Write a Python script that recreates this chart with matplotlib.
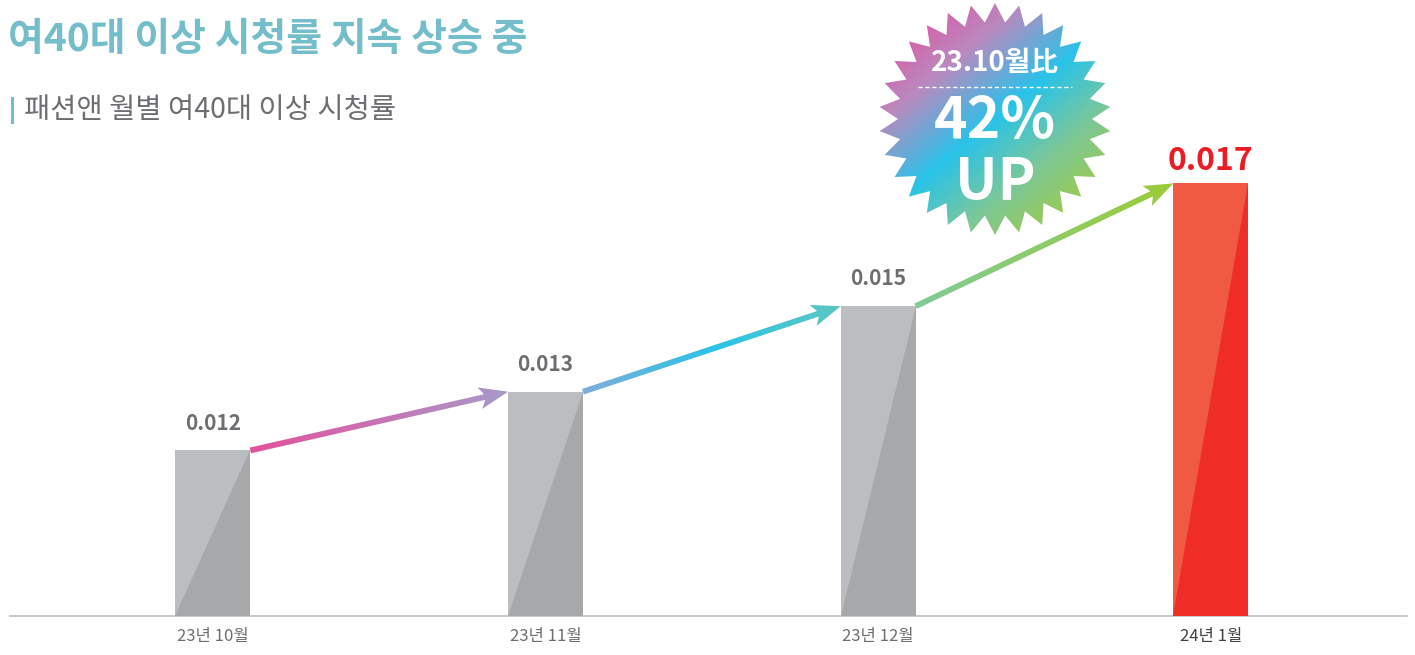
import numpy as np
import matplotlib
matplotlib.use('Agg')
import matplotlib.pyplot as plt
from matplotlib.colors import LinearSegmentedColormap
from matplotlib.patches import Polygon, PathPatch
from matplotlib.path import Path

plt.rcParams['font.family'] = ['Noto Sans CJK KR', 'DejaVu Sans']

# ---- data
months = ['23년 10월', '23년 11월', '23년 12월', '24년 1월']
ratings = [0.0120, 0.0131, 0.0147, 0.0170]
title = '여40대 이상 시청률 지속 상승 중'
subtitle = '패션앤 월별 여40대 이상 시청률'
badge_top = '23.10월比'
badge_pct = '42%'
badge_up = 'UP'

# ---- colours
TEAL = '#74BDCB'
GRAY_TXT = '#6D6E71'
bar_light = ['#BCBDC0', '#BCBDC0', '#BCBDC0', '#F15A42']
bar_dark = ['#A6A8AA', '#A6A8AA', '#A6A8AA', '#EE2D27']
arrow_cmap = LinearSegmentedColormap.from_list('arr', [
    (0.00, '#E4519D'), (0.28, '#A79AC9'), (0.36, '#7EAED8'),
    (0.50, '#2BC3E8'), (0.64, '#5EC7C2'), (0.72, '#80CB98'), (1.00, '#9CCB38')])
badge_cmap = LinearSegmentedColormap.from_list('badge', [
    (0.00, '#E24E9E'), (0.25, '#B98ABF'), (0.50, '#28C3EA'),
    (0.72, '#7BC79A'), (1.00, '#A8CC30')])

W, H = 1415, 655
fig = plt.figure(figsize=(W / 100, H / 100), dpi=100)
fig.patch.set_facecolor('white')

# ---- main axes
base_px, top_px = 616, 130
ax = fig.add_axes([10 / W, (H - base_px) / H, 1397 / W, (base_px - top_px) / H])
x = np.arange(len(months))
y0 = 0.0089
ax.set_xlim(-0.61, 3.59)
ax.set_ylim(y0, 0.0180)
bw = 0.225

for i, v in enumerate(ratings):
    ax.bar(x[i], v - y0, bottom=y0, width=bw, color=bar_light[i], zorder=2)
    tri = Polygon([(x[i] - bw / 2, y0), (x[i] + bw / 2, y0), (x[i] + bw / 2, v)],
                  closed=True, color=bar_dark[i], lw=0, zorder=3)
    ax.add_patch(tri)
    last = i == len(ratings) - 1
    ax.annotate(f'{v:.3f}', (x[i], v), xytext=(0, 10 if last else 15),
                textcoords='offset points', ha='center', va='baseline',
                fontsize=23 if last else 15, fontweight='bold',
                color='#ED1C24' if last else GRAY_TXT)

for s in ['top', 'left', 'right']:
    ax.spines[s].set_visible(False)
ax.spines['bottom'].set_color('#BCBEC0')
ax.spines['bottom'].set_linewidth(1.2)
ax.set_yticks([])
ax.set_xticks(x)
ax.set_xticklabels(months, fontsize=12)
ax.tick_params(axis='x', length=0, pad=9)
for i, lab in enumerate(ax.get_xticklabels()):
    lab.set_color('#414042' if i == len(months) - 1 else GRAY_TXT)

# ---- overlay axes in pixel units (y down) for arrows, titles and badge
ov = fig.add_axes([0, 0, 1, 1], zorder=5)
ov.set_xlim(0, W)
ov.set_ylim(H, 0)
ov.axis('off')

fig.canvas.draw()


def to_ov(pt):
    px, py = ax.transData.transform(pt)
    return np.array([px, H - py])


# gradient arrows: one gradient image clipped to the arrow outlines
verts, codes = [], []
ends = []
for i in range(len(ratings) - 1):
    p0 = to_ov((x[i] + bw / 2, ratings[i]))
    p1 = to_ov((x[i + 1] - bw / 2, ratings[i + 1]))
    ends += [p0, p1]
    u = (p1 - p0) / np.linalg.norm(p1 - p0)
    n = np.array([-u[1], u[0]])
    head_len, head_w, hs = 29, 11, 2.9
    base = p1 - u * head_len
    notch = base + u * 6
    poly = [p0 + n * hs, notch - u * 1 + n * hs, base + n * head_w, p1,
            base - n * head_w, notch - u * 1 - n * hs, p0 - n * hs]
    verts += poly + [poly[0]]
    codes += [Path.MOVETO] + [Path.LINETO] * (len(poly) - 1) + [Path.CLOSEPOLY]
ends = np.array(ends)
clip = PathPatch(Path(verts, codes), facecolor='none', edgecolor='none',
                 transform=ov.transData)
ov.add_patch(clip)
gx0, gx1 = ends[:, 0].min(), ends[:, 0].max()
ymin, ymax = ends[:, 1].min() - 15, ends[:, 1].max() + 15
grad = arrow_cmap(np.linspace(0, 1, 600))[None, :, :]
aimg = ov.imshow(grad, extent=[gx0, gx1, ymax, ymin], aspect='auto',
                 interpolation='bilinear', zorder=4)
aimg.set_clip_path(clip)

ov.text(8, 40, title, fontsize=28, fontweight='bold', color=TEAL, va='center', ha='left')
ov.plot([11.5, 11.5], [98, 122], color=TEAL, lw=2.2)
ov.text(24, 110, subtitle, fontsize=20.5, color=GRAY_TXT, va='center', ha='left')

# starburst badge
cx, cy = 995, 119
n_spk = 30
r_out, r_in = 116, 97
ang = np.linspace(0, 2 * np.pi, 2 * n_spk, endpoint=False) - np.pi / 2
rad = np.where(np.arange(2 * n_spk) % 2 == 0, r_out, r_in)
star = Polygon(np.c_[cx + rad * np.cos(ang), cy + rad * np.sin(ang)],
               closed=True, facecolor='none', edgecolor='none')
ov.add_patch(star)
gx, gy = np.meshgrid(np.linspace(-1, 1, 300), np.linspace(-1, 1, 300))
d = np.array([0.64, 0.77])
tt = (gx * d[0] + gy * d[1]) / np.sqrt(2) * 1.15
tt = np.clip((tt + 1) / 2, 0, 1)
img = ov.imshow(badge_cmap(tt), extent=[cx - r_out, cx + r_out, cy + r_out, cy - r_out],
                aspect='auto', interpolation='bilinear', zorder=6)
img.set_clip_path(star)
ov.set_xlim(0, W)
ov.set_ylim(H, 0)

ov.text(cx, 63, badge_top, fontsize=20, fontweight='bold', color='white',
        ha='center', va='center', zorder=7)
ov.plot([918, 1072], [87, 87], color='white', lw=1, ls=(0, (3, 2)), zorder=7)
ov.text(cx, 122, badge_pct, fontsize=41, fontweight='bold', color='white',
        ha='center', va='center', zorder=7)
ov.text(cx, 183, badge_up, fontsize=41, fontweight='bold', color='white',
        ha='center', va='center', zorder=7)

fig.savefig('out.png', dpi=100, facecolor='white')
